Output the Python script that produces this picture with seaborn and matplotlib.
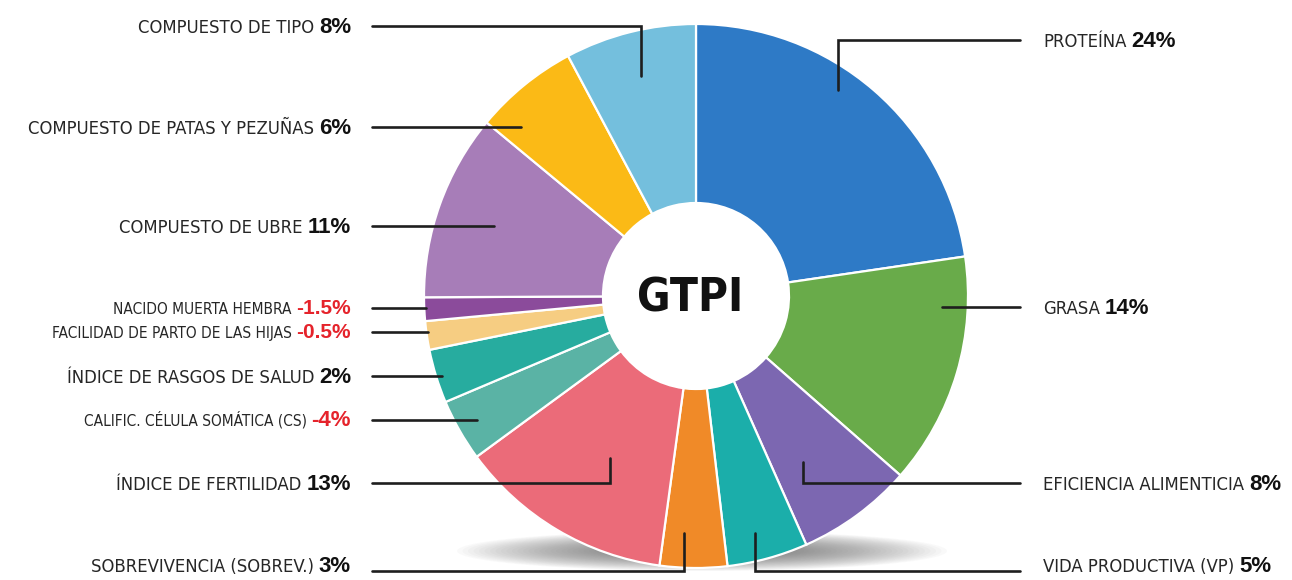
import numpy as np
import matplotlib
matplotlib.use("Agg")
import matplotlib.pyplot as plt
from matplotlib import font_manager
from matplotlib.font_manager import FontProperties
from matplotlib.patches import Ellipse
import seaborn as sns

# --- data (clockwise from 12 o'clock) ---
names = [
    "PROTEÍNA", "GRASA", "EFICIENCIA ALIMENTICIA", "VIDA PRODUCTIVA (VP)",
    "SOBREVIVENCIA (SOBREV.)", "ÍNDICE DE FERTILIDAD",
    "CALIFIC. CÉLULA SOMÁTICA (CS)", "ÍNDICE DE RASGOS DE SALUD",
    "FACILIDAD DE PARTO DE LAS HIJAS", "NACIDO MUERTA HEMBRA",
    "COMPUESTO DE UBRE", "COMPUESTO DE PATAS Y PEZUÑAS", "COMPUESTO DE TIPO",
]
weights = [24, 14, 8, 5, 3, 13, -4, 2, -0.5, -1.5, 11, 6, 8]
# share of the ring each slice takes, as drawn in the picture
shares = [22.7, 13.8, 6.9, 4.8, 4.0, 12.8, 3.7, 3.2, 1.7, 1.4, 11.1, 6.2, 7.8]
colors = [
    "#2E7AC6", "#69AB4A", "#7C67B1", "#1BAEAA", "#F08A28", "#EB6B79",
    "#5AB3A5", "#27AC9F", "#F6CD82", "#8B4B9B", "#A77DB8", "#FBBA16", "#74BFDD",
]

# --- layout (pixels, y from top) ---
W, H = 1292, 580
CX, CY, R, HOLE = 696, 296, 272, 93
LEFT_END, RIGHT_END = 372, 1020
LEFT_TXT, RIGHT_TXT = 351, 1043
# side, leader y, leader kind, radius fraction, position along wedge
leaders = [
    ("R", 40, "elbow", 0.92, 0.577),
    ("R", 307, "flat", 0.905, None),
    ("R", 483, "elbow", 0.726, 0.36),
    ("R", 571, "elbow", 0.898, 0.43),
    ("L", 571, "elbow", 0.872, 0.34),
    ("L", 483, "elbow", 0.674, 0.56),
    ("L", 420, "flat", 0.925, None),
    ("L", 376, "flat", 0.98, None),
    ("L", 332, "flat", 0.995, None),
    ("L", 308, "flat", 0.994, None),
    ("L", 226, "flat", 0.786, None),
    ("L", 127, "flat", 0.895, None),
    ("L", 26, "elbow", 0.834, 0.5),
]
small = {"CALIFIC. CÉLULA SOMÁTICA (CS)", "FACILIDAD DE PARTO DE LAS HIJAS",
         "NACIDO MUERTA HEMBRA"}

sns.set_theme(style="white")
plt.rcParams["font.family"] = ["Liberation Sans", "DejaVu Sans"]


def condensed_font(bold):
    # prefer a narrow/condensed face if one is installed
    for f in font_manager.fontManager.ttflist:
        narrow = ("Narrow" in f.name or "Condensed" in f.name
                  or f.stretch in ("condensed", "semi-condensed", "extra-condensed"))
        wt = f.weight if isinstance(f.weight, int) else (700 if "bold" in str(f.weight) else 400)
        if narrow and f.style == "normal" and (wt >= 600) == bold:
            return FontProperties(fname=f.fname)
    return FontProperties(family="Liberation Sans", weight="bold" if bold else "normal")


def sized(fp, size):
    p = fp.copy()
    p.set_size(size)
    return p


fig = plt.figure(figsize=(W / 100, H / 100), dpi=100)
ax = fig.add_axes([0, 0, 1, 1])
renderer = fig.canvas.get_renderer()


def fit(fp, s, target_px):
    t = fig.text(0, 0, s, fontproperties=sized(fp, 20))
    w = t.get_window_extent(renderer).width
    t.remove()
    return 20 * target_px / w


name_fp = condensed_font(False)
title_fp = condensed_font(True)
pct_fp = FontProperties(family="Liberation Sans", weight="bold")
main_size = fit(name_fp, "COMPUESTO DE PATAS Y PEZUÑAS", 286)
small_size = fit(name_fp, "FACILIDAD DE PARTO DE LAS HIJAS", 240)
title_size = fit(title_fp, "GTPI", 106)

# soft shadow under the ring
for k in range(30):
    ax.add_patch(Ellipse((702, H - 551), 490 - k * 11, 40 - k * 1.0,
                         color="#5a5a5a", alpha=0.03, lw=0, zorder=0))

wedges, _ = ax.pie(
    shares, colors=sns.color_palette(colors), startangle=90, counterclock=False,
    radius=R, center=(CX, H - CY),
    wedgeprops=dict(width=R - HOLE, edgecolor="white", linewidth=1.6),
)
for w in wedges:
    w.set_zorder(2)

ax.text(CX - 6, H - 312, "GTPI", ha="center", va="baseline",
        fontproperties=sized(title_fp, title_size), color="#111111", zorder=3)

for name, wt, wedge, (side, ly, kind, rf, t) in zip(names, weights, wedges, leaders):
    y = H - ly
    cy = H - CY
    xend = LEFT_END if side == "L" else RIGHT_END
    if kind == "elbow":
        ang = np.radians(wedge.theta1 + t * (wedge.theta2 - wedge.theta1))
        px = CX + rf * R * np.cos(ang)
        py = cy + rf * R * np.sin(ang)
        ax.plot([px, px, xend], [py, y, y], color="#1e1e1e", lw=1.9,
                solid_joinstyle="miter", zorder=4)
    else:
        dx = np.sqrt((rf * R) ** 2 - (y - cy) ** 2)
        px = CX - dx if side == "L" else CX + dx
        ax.plot([xend, px], [y, y], color="#1e1e1e", lw=1.9, zorder=4)

    nsize = small_size if name in small else main_size
    psize = 15 if name in small and wt > -2 else 16
    pcolor = "#E5232B" if wt < 0 else "#111111"
    pct = f"{wt:g}%"
    # keep bottom labels inside the canvas
    base = max(y - 0.36 * nsize * 100 / 72, 7.5)
    nfp = sized(name_fp, nsize)
    pfp = sized(pct_fp, psize)
    if side == "L":
        pt = ax.text(LEFT_TXT, base, pct, ha="right", va="baseline",
                     fontproperties=pfp, color=pcolor)
        ax.annotate(name, xy=(0, base), xycoords=(pt, "data"), xytext=(-3.5, 0),
                    textcoords="offset points", ha="right", va="baseline",
                    fontproperties=nfp, color="#262626")
    else:
        nt = ax.text(RIGHT_TXT, base, name, ha="left", va="baseline",
                     fontproperties=nfp, color="#262626")
        ax.annotate(pct, xy=(1, base), xycoords=(nt, "data"), xytext=(3.5, 0),
                    textcoords="offset points", ha="left", va="baseline",
                    fontproperties=pfp, color=pcolor)

ax.set_xlim(0, W)
ax.set_ylim(0, H)
ax.set_aspect("auto")
ax.axis("off")

fig.savefig("out.png", dpi=100, facecolor="white")
plt.close(fig)
